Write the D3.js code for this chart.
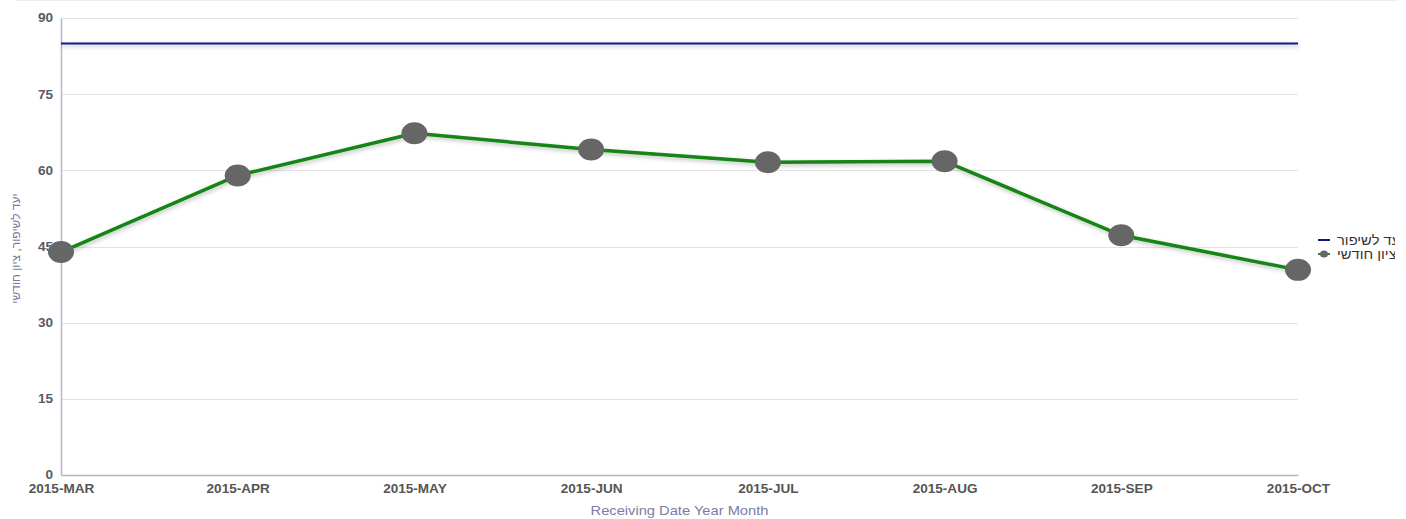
<!DOCTYPE html>
<html>
<head>
<meta charset="utf-8">
<script src="https://cdn.jsdelivr.net/npm/d3@7"></script>
<style>
  body { margin: 0; background: #fff; }
  svg { display: block; font-family: "Liberation Sans", Arial, sans-serif; }
</style>
</head>
<body>
<svg width="1406" height="519"></svg>
<script>
const months = ['2015-MAR', '2015-APR', '2015-MAY', '2015-JUN', '2015-JUL', '2015-AUG', '2015-SEP', '2015-OCT'];
const monthlyScore = [43.9, 59.0, 67.3, 64.1, 61.6, 61.8, 47.2, 40.4];
const target = 85;
const yTicks = [0, 15, 30, 45, 60, 75, 90];
const legendLabels = ['יעד לשיפור', 'ציון חודשי'];

const svg = d3.select('svg');

const margin = { left: 61, right: 1298, top: 18, bottom: 475 };
const stretch = 1.13; // the picture's text looks a bit wider than normal

const x = d3.scalePoint().domain(months).range([margin.left, margin.right]);
const y = d3.scaleLinear().domain([0, 90]).range([margin.bottom, margin.top]);

const defs = svg.append('defs');
defs.append('filter')
  .attr('id', 'shadow')
  .attr('filterUnits', 'userSpaceOnUse')
  .attr('x', 0).attr('y', 0)
  .attr('width', 1406).attr('height', 519)
  .append('feDropShadow')
  .attr('dx', 1).attr('dy', 2)
  .attr('stdDeviation', 2)
  .attr('flood-color', '#000')
  .attr('flood-opacity', 0.25);

defs.append('clipPath')
  .attr('id', 'legend-clip')
  .append('rect')
  .attr('x', 0).attr('y', -20)
  .attr('width', 77).attr('height', 60);

// faint top border
svg.append('line')
  .attr('x1', 15).attr('x2', 1398)
  .attr('y1', 0.5).attr('y2', 0.5)
  .attr('stroke', '#eeeeee');

// grid
svg.append('g')
  .selectAll('line')
  .data(yTicks.filter(d => d > 0))
  .enter()
  .append('line')
  .attr('x1', margin.left).attr('x2', margin.right)
  .attr('y1', d => Math.round(y(d)) + 0.5)
  .attr('y2', d => Math.round(y(d)) + 0.5)
  .attr('stroke', '#e3e3e3');

// y axis
const yAxis = svg.append('g')
  .attr('transform', `translate(${margin.left},0)`)
  .call(d3.axisLeft(y).tickValues(yTicks).tickSize(0).tickPadding(0));
yAxis.select('.domain').attr('stroke', '#b4b4cc').attr('stroke-width', 1.5);
yAxis.selectAll('text')
  .attr('x', -8 / stretch)
  .attr('transform', `scale(${stretch},1)`)
  .attr('fill', '#5a5a66')
  .attr('font-size', 12)
  .attr('font-weight', 'bold');

// x axis
const xAxis = svg.append('g')
  .attr('transform', `translate(0,${margin.bottom})`)
  .call(d3.axisBottom(x).tickSize(0).tickPadding(9));
xAxis.select('.domain').attr('stroke', '#b4b4cc').attr('stroke-width', 1.5);
xAxis.selectAll('text')
  .attr('transform', `scale(${stretch},1)`)
  .attr('fill', '#555')
  .attr('font-size', 12)
  .attr('font-weight', 'bold');

// axis titles
svg.append('text')
  .attr('transform', `translate(${(margin.left + margin.right) / 2},515) scale(${stretch},1)`)
  .attr('text-anchor', 'middle')
  .attr('fill', '#7c7ca4')
  .attr('font-size', 13)
  .text('Receiving Date Year Month');

svg.append('text')
  .attr('transform', `translate(20,${(margin.top + margin.bottom) / 2 + 2}) rotate(-90)`)
  .attr('text-anchor', 'middle')
  .attr('fill', '#7c7ca4')
  .attr('font-size', 12)
  .text(legendLabels.join(', '));

// target line
svg.append('line')
  .attr('x1', margin.left).attr('x2', margin.right)
  .attr('y1', y(target)).attr('y2', y(target))
  .attr('stroke', '#14148c')
  .attr('stroke-width', 2)
  .attr('filter', 'url(#shadow)');

// score line
const line = d3.line()
  .x((d, i) => x(months[i]))
  .y(d => y(d));

svg.append('path')
  .datum(monthlyScore)
  .attr('d', line)
  .attr('fill', 'none')
  .attr('stroke', '#128412')
  .attr('stroke-width', 3.5)
  .attr('filter', 'url(#shadow)');

svg.append('g')
  .selectAll('ellipse')
  .data(monthlyScore)
  .enter()
  .append('ellipse')
  .attr('cx', (d, i) => x(months[i]))
  .attr('cy', d => y(d))
  .attr('rx', 13)
  .attr('ry', 11)
  .attr('fill', '#666666');

// legend
const legend = svg.append('g').attr('transform', 'translate(1318,240)');
legend.append('line')
  .attr('x1', 0).attr('x2', 12)
  .attr('y1', 0).attr('y2', 0)
  .attr('stroke', '#14148c').attr('stroke-width', 2);
legend.append('line')
  .attr('x1', 0).attr('x2', 12)
  .attr('y1', 14).attr('y2', 14)
  .attr('stroke', '#3a7a3a').attr('stroke-width', 2);
legend.append('ellipse')
  .attr('cx', 6).attr('cy', 14).attr('rx', 4).attr('ry', 3.5)
  .attr('fill', '#666');
legend.append('g')
  .attr('clip-path', 'url(#legend-clip)')
  .selectAll('text')
  .data(legendLabels)
  .enter()
  .append('text')
  .attr('x', 19 / stretch)
  .attr('y', (d, i) => i * 14 + 5)
  .attr('transform', `scale(${stretch},1)`)
  .attr('fill', '#333')
  .attr('font-size', 13)
  .text(d => d);
</script>
</body>
</html>
